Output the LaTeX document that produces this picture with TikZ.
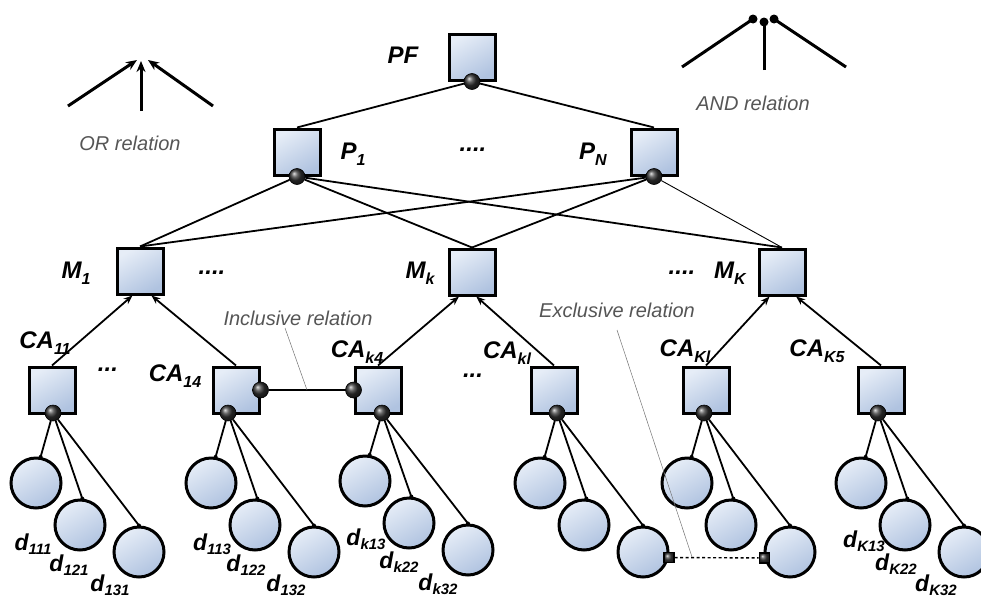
\documentclass[tikz,border=0pt]{standalone}
\usepackage{fontspec}
\setmainfont{Liberation Sans}
\usetikzlibrary{arrows.meta,backgrounds}
\definecolor{boxtop}{RGB}{230,237,247}
\definecolor{boxbot}{RGB}{176,195,224}
\definecolor{relgray}{RGB}{85,85,85}
\newcommand\lsub[1]{\raisebox{-0.45ex}{\fontsize{16}{16}\selectfont #1}}
\newcommand\dsub[1]{\raisebox{-0.3ex}{\fontsize{15}{15}\selectfont #1}}
\newcommand\lblfont{\fontsize{24}{26}\selectfont\bfseries\itshape}
\newcommand\dlblfont{\fontsize{23}{25}\selectfont\bfseries\itshape}
\tikzset{
  box/.style={rectangle, draw=black, line width=3pt, minimum size=46pt, inner sep=0pt,
    top color=boxtop, bottom color=boxbot, shading angle=30},
  dnode/.style={circle, draw=black, line width=3pt, minimum size=50pt, inner sep=0pt,
    top color=boxtop, bottom color=boxbot, shading angle=30},
  ball/.style={circle, draw=black, line width=0.6pt, minimum size=16pt, inner sep=0pt, ball color=black!80},
  xsq/.style={rectangle, draw=black, line width=1.2pt, minimum size=10pt, inner sep=0pt, ball color=black!75},
  lab/.style={font=\lblfont, inner sep=1pt},
  dlab/.style={font=\dlblfont, inner sep=0pt},
  rel/.style={font=\fontsize{20}{24}\selectfont\itshape, text=relgray, inner sep=1pt},
  edge/.style={line width=1.8pt, draw=black},
  thinedge/.style={line width=0.9pt, draw=black},
  arr/.style={line width=1.8pt, -{Stealth[length=9pt,width=7pt]}},
  leader/.style={line width=0.5pt, draw=black!55},
  symline/.style={line width=3pt},
}
\begin{document}
\begin{tikzpicture}[x=1pt,y=-1pt]
\useasboundingbox (0,0) rectangle (981,597);

% boxes
\node[box] (PF) at (472,57) {};
\node[box] (P1) at (297,152) {};
\node[box] (PN) at (654,152) {};
\node[box] (M1) at (140,271) {};
\node[box] (Mk) at (472,272) {};
\node[box] (MK) at (782,272) {};
\node[box] (CA11) at (52,390) {};
\node[box] (CA14) at (236,390) {};
\node[box] (CAk4) at (378,390) {};
\node[box] (CAkl) at (554,390) {};
\node[box] (CAKl) at (706,390) {};
\node[box] (CAK5) at (881,390) {};

% balls
\node[ball] (bPF) at (PF.south) {};
\node[ball] (bP1) at (P1.south) {};
\node[ball] (bPN) at (PN.south) {};
\node[ball] (g1) at (53,413) {};
\node[ball] (g2) at (228,413) {};
\node[ball] (g3) at (382,413) {};
\node[ball] (g4) at (557,413) {};
\node[ball] (g5) at (704,413) {};
\node[ball] (g6) at (878,413) {};
\node[ball] (bI1) at (CA14.east) {};
\node[ball] (bI2) at (CAk4.west) {};

% data circles
\foreach \g/\bx/\dy in {1/53/0, 2/228/0, 3/382/-2, 4/557/0, 5/704/0, 6/878/0} {
  \node[dnode] (d\g a) at (\bx-17,483+\dy) {};
  \node[dnode] (d\g b) at (\bx+27,525+\dy) {};
  \node[dnode] (d\g c) at (\bx+86,552+\dy) {};
  \fill (d\g a.80) circle (2pt);
  \fill (d\g b.85) circle (2pt);
  \fill (d\g c.90) circle (2pt);
}

% exclusive squares
\node[xsq] (x1) at (d4c.-12) {};
\node[xsq] (x2) at (d5c.193) {};

\begin{scope}[on background layer]
  \draw[edge] (bPF) -- (P1.north);
  \draw[edge] (bPF) -- (PN.north);
  \draw[edge] (bP1) -- (M1.north);
  \draw[edge] (bP1) -- (Mk.north);
  \draw[edge] (bP1) -- (MK.north);
  \draw[edge] (bPN) -- (M1.north);
  \draw[edge] (bPN) -- (Mk.north);
  \draw[thinedge] (bPN) -- (MK.north);
  \foreach \g in {1,...,6} {
    \draw[edge] (g\g) -- (d\g a.80);
    \draw[edge] (g\g) -- (d\g b.85);
    \draw[edge] (g\g) -- (d\g c.90);
  }
  \draw[edge] (bI1) -- (bI2);
  \draw[line width=1.4pt, dashed, dash pattern=on 3pt off 2.5pt] (x1) -- (x2);
\end{scope}

% arrows CA -> M
\draw[arr] (CA11.north) -- (M1.-107);
\draw[arr] (CA14.north) -- (M1.-65);
\draw[arr] (CAk4.north) -- (Mk.-118);
\draw[arr] (CAkl.north) -- (Mk.-80);
\draw[arr] (CAKl.north) -- (MK.-117);
\draw[arr] (CAK5.north) -- (MK.-60);

% leaders
\coordinate (incA) at (285,328);
\coordinate (incB) at (307,390);
\draw[leader] (incA) -- (incB);
\coordinate (excA) at (617,330);
\coordinate (excB) at (692,557);
\draw[leader] (excA) -- (excB);

% labels
\node[lab] (lPF) at (403,55) {PF};
\node[lab] (lP1) at (353,154) {P\lsub{1}};
\node[lab] (ldA) at (473,150) {....};
\node[lab] (lPN) at (593,154) {P\lsub{N}};
\node[lab] (lM1) at (76,273) {M\lsub{1}};
\node[lab] (ldB) at (212,273) {....};
\node[lab] (lMk) at (420,273) {M\lsub{k}};
\node[lab] (ldC) at (682,273) {....};
\node[lab] (lMK) at (730,273) {M\lsub{K}};
\node[lab] (lCA11) at (45,343) {CA\lsub{11}};
\node[lab] (ldD) at (108,370) {...};
\node[lab] (lCA14) at (175,376) {CA\lsub{14}};
\node[lab] (lCAk4) at (357,352) {CA\lsub{k4}};
\node[lab] (ldE) at (473,376) {...};
\node[lab] (lCAkl) at (507,353) {CA\lsub{kl}};
\node[lab] (lCAKl) at (685,351) {CA\lsub{Kl}};
\node[lab] (lCAK5) at (817,351) {CA\lsub{K5}};

\node[dlab] (l111) at (33,544) {d\dsub{111}};
\node[dlab] (l121) at (69,565) {d\dsub{121}};
\node[dlab] (l131) at (110,585) {d\dsub{131}};
\node[dlab] (l113) at (212,544) {d\dsub{113}};
\node[dlab] (l122) at (246,565) {d\dsub{122}};
\node[dlab] (l132) at (286,585) {d\dsub{132}};
\node[dlab] (lk13) at (366,539) {d\dsub{k13}};
\node[dlab] (lk22) at (399,562) {d\dsub{k22}};
\node[dlab] (lk32) at (438,584) {d\dsub{k32}};
\node[dlab] (lK13) at (864,541) {d\dsub{K13}};
\node[dlab] (lK22) at (896,564) {d\dsub{K22}};
\node[dlab] (lK32) at (936,585) {d\dsub{K32}};

\node[rel] (lOR) at (130,143) {OR relation};
\node[rel] (lAND) at (753,103) {AND relation};
\node[rel] (lInc) at (298,318) {Inclusive relation};
\node[rel] (lExc) at (617,310) {Exclusive relation};

% OR symbol
\coordinate (or1) at (68,106);
\coordinate (orT1) at (137,60);
\coordinate (or2) at (141,111);
\coordinate (orT2) at (141,61);
\coordinate (or3) at (213,106);
\coordinate (orT3) at (148,60);
\draw[symline, -{Stealth[length=11pt,width=9pt]}] (or1) -- (orT1);
\draw[symline, -{Stealth[length=11pt,width=9pt]}] (or3) -- (orT3);
\draw[symline, -{Stealth[length=11pt,width=9pt]}] (or2) -- (orT2);

% AND symbol
\coordinate (an1) at (682,67);
\coordinate (anT1) at (753,19);
\coordinate (an2) at (764,70);
\coordinate (anT2) at (764,22);
\coordinate (an3) at (846,67);
\coordinate (anT3) at (774,19);
\draw[symline] (an1) -- (anT1);
\draw[symline] (an2) -- (anT2);
\draw[symline] (an3) -- (anT3);
\fill (anT1) circle (4.5pt);
\fill (anT2) circle (4.5pt);
\fill (anT3) circle (4.5pt);
\end{tikzpicture}
\end{document}
